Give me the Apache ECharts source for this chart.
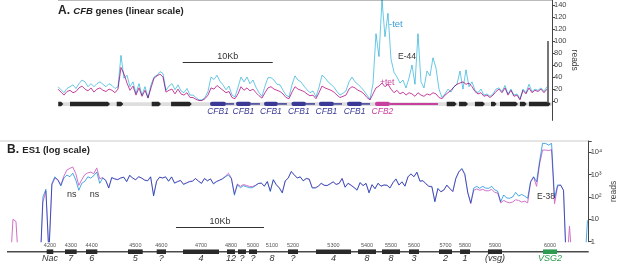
<!DOCTYPE html>
<html>
<head>
<meta charset="utf-8">
<script src="https://cdn.jsdelivr.net/npm/echarts@6.0.0/dist/echarts.min.js"></script>
<style>
html,body{margin:0;padding:0;background:#fff}
#main{width:617px;height:265px}
</style>
</head>
<body>
<div id="main"></div>
<script>
var FONT = 'Liberation Sans, Arial, sans-serif';
var CYAN_A = '#44bbe0', MAG_A = '#c8409e';
var CYAN_B = '#4aaae6', MAG_B = '#d070c8';
var NAVY = '#3a3a96';

// sample spacing in kb
var STEP_A = 1 / 3;
var STEP_B = 0.34;
var XMAX_A = 54.89;
var XMAX_B = 66.1;

// panel A reads (linear), one value per STEP_A
var minusTetA = [
  24,19,14,21,24,27,21,29,35,32,
  24,29,24,29,32,28,24,29,26,21,
  24,76,38,43,24,32,13,29,10,24,
  6,27,40,43,49,46,18,25,29,19,
  27,17,14,21,10,10,6,2,2,6,
  16,40,36,43,33,27,19,25,10,7,
  23,40,32,40,29,35,23,14,8,25,
  39,39,35,28,27,18,10,7,27,42,
  35,32,25,19,14,17,7,23,43,39,
  32,28,23,16,10,13,17,32,40,32,
  28,23,17,10,3,29,112,74,168,107,
  146,70,48,40,30,35,22,38,60,28,
  112,32,22,50,42,72,55,20,6,12,
  20,15,24,28,50,20,52,24,32,18,
  14,20,10,12,8,12,20,22,16,26,
  12,20,10,12,4,20,14,28,16,20,
  18,22,16,24
];
var plusTetA = [
  20,15,10,16,18,14,16,22,25,20,
  17,22,15,20,22,18,16,20,18,14,
  20,56,45,30,18,25,10,22,8,18,
  5,22,38,42,45,40,15,18,20,12,
  20,12,10,14,6,6,3,1,1,4,
  10,22,20,26,22,18,14,16,6,4,
  12,24,18,22,17,20,14,9,5,14,
  22,24,20,18,16,12,6,4,15,24,
  20,18,16,12,9,10,4,14,25,22,
  20,18,15,10,6,8,10,20,24,22,
  18,16,12,6,2,12,22,25,30,24,
  28,20,14,18,12,15,10,14,12,8,
  14,10,8,12,10,14,12,6,4,10,
  14,18,24,28,30,32,28,30,24,16,
  12,14,8,10,6,10,16,20,14,22,
  10,18,8,10,2,18,12,22,14,18,
  16,20,14,20
];

// panel B reads (log), one value per STEP_B ; 0.05 = below 1 read
var minusTetB = [
  0.05,0.05,0.05,0.05,0.05,0.05,0.05,0.05,0.05,0.05,
  0.05,0.05,100,220,0.3,400,800,560,310,700,
  960,810,1150,575,200,410,500,800,700,900,
  1300,410,700,550,250,750,640,600,700,780,
  480,960,700,580,810,700,560,520,810,110,
  500,780,700,810,500,800,410,480,560,360,
  420,480,500,685,500,400,685,520,650,380,
  480,560,640,800,960,650,120,350,260,320,
  290,260,260,320,400,420,300,500,175,600,
  350,250,150,530,700,1400,960,700,810,520,
  685,620,250,250,300,420,330,330,380,480,
  360,410,650,270,420,330,260,200,450,320,
  410,150,360,230,420,300,350,330,250,450,
  650,345,485,300,810,1100,800,1300,500,550,
  400,300,300,60,245,174,210,345,245,180,
  685,1360,1900,1100,160,55,250,300,245,300,
  250,245,300,210,180,62,123,90,88,100,
  160,110,130,110,88,500,810,485,4000,25000,
  25000,21000,25000,90,345,345,200,0.05,0.05,0.05,
  0.05,0.05,0.05,0.05,9
];
var plusTetB = [
  0.05,0.05,10,8,0.05,0.05,0.05,0.05,0.05,0.05,
  0.05,0.05,60,180,0.3,350,700,600,350,850,
  1600,1900,2200,1100,330,600,1000,1200,1300,1100,
  2000,650,750,550,260,720,650,600,720,760,
  500,900,700,600,800,700,580,540,780,120,
  520,760,720,780,520,780,430,500,540,380,
  430,500,520,660,520,420,660,540,640,400,
  500,560,660,850,1150,700,140,380,300,360,
  330,300,290,330,400,420,310,480,190,580,
  360,260,160,520,720,1350,1000,720,780,540,
  660,640,270,260,300,400,340,320,400,470,
  370,400,700,280,400,340,270,210,430,330,
  400,160,350,240,400,310,340,340,260,430,
  620,340,470,310,780,1050,820,1250,520,520,
  380,300,280,65,230,170,200,330,230,170,
  660,1300,1800,1000,150,50,200,230,200,220,
  190,190,220,160,150,55,70,60,55,60,
  75,70,60,65,55,450,780,300,3000,12600,
  12600,12000,13000,50,300,345,200,0.05,5,0.05,
  0.05,0.05,0.05,0.05,0.05
];

// axis ticks
var yTicksA = [0,20,40,60,80,100,120,140,160];
var yLabelsA = ['0','20','40','60','80','100','120','120','140'];
var yTicksB = [1,10,100,1000,10000];
var yLabelsB = ['1','10','10²','10³','10⁴'];

// panel A gene track (kb)
var geneA_start = [0.03,1.33,6.52,10.41,12.56,16.89,19.78,22.89,25.94,28.99,32.11,35.22,43.19,44.56,46.33,48.11,49.11,51.33,52.33];
var geneA_end   = [0.59,5.78,7.26,11.44,14.86,18.67,21.44,24.44,27.56,30.67,33.78,36.89,44.3,45.56,47.44,48.74,51.11,52.08,54.74];
var geneA_tail  = [null,null,null,null,null,19.56,22.44,25.44,28.56,31.56,34.67,42.22,null,null,null,null,null,null,null];
var geneA_kind  = [0,0,0,0,0,1,1,1,1,1,1,2,0,0,0,0,0,0,0];
var geneA_name  = ['','','','','','CFB1','CFB1','CFB1','CFB1','CFB1','CFB1','CFB2','','','','','','',''];

// panel B gene track (kb)
var geneB_start = [4.51,6.59,8.98,13.75,17.01,20.0,25.0,26.25,27.5,30.11,31.93,35.11,39.89,42.61,45.68,49.09,51.48,54.66,60.91];
var geneB_end   = [5.26,7.92,10.26,15.42,18.07,24.09,25.91,27.16,28.41,30.11,33.07,39.09,41.93,44.66,46.82,50.57,52.61,56.25,62.5];
var geneB_num   = ['4200','4300','4400','4500','4600','4700','4800','','5000','5100','5200','5300','5400','5500','5600','5700','5800','5900','6000'];
var geneB_name  = ['Nac','7','6','5','?','4','12','?','?','8','?','4','8','8','3','2','1','(vsg)','VSG2'];
var geneB_kind  = [0,0,0,0,0,0,0,0,0,0,0,0,0,0,0,0,0,0,1];

function toPairs(arr, step) {
  return arr.map(function (v, i) { return [i * step, v]; });
}
function spans(a, b) {
  return a.map(function (v, i) { return [v, b[i]]; });
}

function renderTrackA(params, api) {
  var i = params.dataIndex;
  var p0 = api.coord([api.value(0), 0]);
  var p1 = api.coord([api.value(1), 0]);
  var y = p0[1] + 2.8;
  var kind = geneA_kind[i];
  var kids = [];
  if (geneA_tail[i] != null) {
    var pt = api.coord([geneA_tail[i], 0]);
    kids.push({type: 'line', shape: {x1: p1[0], y1: y, x2: pt[0], y2: y},
      style: {stroke: kind === 2 ? MAG_A : NAVY, lineWidth: kind === 2 ? 2 : 1.5}});
  }
  if (kind === 0) {
    var tip = Math.min(2.2, (p1[0] - p0[0]) / 2);
    kids.push({type: 'polygon', shape: {points: [[p0[0], y - 2.3], [p1[0] - tip, y - 2.3], [p1[0], y], [p1[0] - tip, y + 2.3], [p0[0], y + 2.3]]},
      style: {fill: '#262626'}});
  } else {
    kids.push({type: 'rect', shape: {x: p0[0], y: y - 2.1, width: p1[0] - p0[0], height: 4.2, r: 2},
      style: {fill: kind === 2 ? MAG_A : NAVY}});
  }
  if (geneA_name[i]) {
    kids.push({type: 'text', x: (p0[0] + p1[0]) / 2, y: p0[1] + 10.8,
      style: {text: geneA_name[i], fill: kind === 2 ? MAG_A : NAVY, fontSize: 8.5, fontStyle: 'italic',
        fontFamily: FONT, align: 'center', verticalAlign: 'middle'}});
  }
  return {type: 'group', children: kids};
}

function renderBgA(params, api) {
  var p0 = api.coord([api.value(0), 0]);
  var p1 = api.coord([api.value(1), 0]);
  return {type: 'rect', shape: {x: p0[0], y: p0[1] + 1, width: p1[0] - p0[0], height: 3.8}, style: {fill: '#dedede'}};
}

function renderBaseB(params, api) {
  var p0 = api.coord([api.value(0), 1]);
  var p1 = api.coord([api.value(1), 1]);
  var y = p0[1] + 10;
  return {type: 'line', shape: {x1: p0[0], y1: y, x2: p1[0], y2: y}, style: {stroke: '#4a4a4a', lineWidth: 1.5}};
}

function renderTrackB(params, api) {
  var i = params.dataIndex;
  var p0 = api.coord([api.value(0), 1]);
  var p1 = api.coord([api.value(1), 1]);
  var y = p0[1] + 10;
  var cx = (p0[0] + p1[0]) / 2;
  var green = geneB_kind[i] === 1;
  var kids = [];
  if (p1[0] - p0[0] > 0.5) {
    kids.push({type: 'rect', shape: {x: p0[0], y: y - 2.3, width: p1[0] - p0[0], height: 4.6},
      style: {fill: green ? '#2e9c50' : '#2a2a2a'}});
  }
  if (geneB_num[i]) {
    kids.push({type: 'text', x: cx, y: y - 6, style: {text: geneB_num[i], fill: '#555', fontSize: 5.5,
      fontFamily: FONT, align: 'center', verticalAlign: 'middle'}});
  }
  kids.push({type: 'text', x: cx, y: y + 6.8, style: {text: geneB_name[i], fill: green ? '#2e9c50' : '#333',
    fontSize: 9, fontStyle: 'italic', fontFamily: FONT, align: 'center', verticalAlign: 'middle'}});
  return {type: 'group', children: kids};
}

function labelB(v) {
  var e = Math.round(Math.log10(v));
  var k = yTicksB.indexOf(Math.pow(10, e));
  if (k < 0 || Math.abs(Math.log10(v) - e) > 0.01) return '';
  return yLabelsB[k];
}

var chart = echarts.init(document.getElementById('main'), null, {renderer: 'canvas'});

var option = {
  animation: false,
  backgroundColor: '#fff',
  textStyle: {fontFamily: FONT},
  grid: [
    {left: 58, top: 0, width: 494, height: 120.4, outerBoundsMode: 'none', containLabel: false},
    {left: 7, top: 141, width: 581.7, height: 100.7, outerBoundsMode: 'none', containLabel: false}
  ],
  xAxis: [
    {gridIndex: 0, type: 'value', min: 0, max: XMAX_A, show: false},
    {gridIndex: 1, type: 'value', min: 0, max: XMAX_B, show: false}
  ],
  yAxis: [
    {
      gridIndex: 0, type: 'value', position: 'right', min: -32, max: 168,
      axisLine: {show: true, onZero: false, lineStyle: {color: '#444', width: 1}},
      axisTick: {show: true, customValues: yTicksA, length: 3, lineStyle: {color: '#444'}},
      axisLabel: {customValues: yTicksA, margin: 2, fontSize: 7.5, color: '#444', fontFamily: FONT,
        formatter: function (v) { return yLabelsA[yTicksA.indexOf(v)]; }},
      splitLine: {show: false},
      name: 'reads', nameLocation: 'middle', nameRotate: -90, nameGap: 18, nameMoveOverlap: false,
      nameTextStyle: {fontSize: 8.5, color: '#444', fontFamily: FONT}
    },
    {
      gridIndex: 1, type: 'log', logBase: 10, position: 'right', min: 1, max: 32000,
      axisLine: {show: true, onZero: false, lineStyle: {color: '#444', width: 1}},
      axisTick: {show: true, length: 3, lineStyle: {color: '#444'}},
      axisLabel: {margin: 2, fontSize: 7.5, color: '#444', fontFamily: FONT, formatter: labelB},
      splitLine: {show: false},
      name: 'reads', nameLocation: 'middle', nameRotate: 90, nameGap: 20, nameMoveOverlap: false,
      nameTextStyle: {fontSize: 8.5, color: '#444', fontFamily: FONT}
    }
  ],
  series: [
    {
      type: 'custom', xAxisIndex: 0, yAxisIndex: 0, renderItem: renderBgA, silent: true, z: 1,
      data: [[0, XMAX_A]]
    },
    {
      type: 'line', xAxisIndex: 0, yAxisIndex: 0, data: toPairs(plusTetA, STEP_A),
      symbol: 'none', silent: true, z: 2, clip: true,
      lineStyle: {color: MAG_A, width: 1}, itemStyle: {color: MAG_A},
      markLine: {
        silent: true, symbol: ['none', 'none'], animation: false,
        label: {show: false},
        lineStyle: {type: 'solid', color: '#333', width: 1.2},
        data: [
          [{coord: [54.37, -3], lineStyle: {color: '#555', width: 1.6}}, {coord: [54.37, 100]}],
          [{coord: [13.86, 65.3], label: {show: true, formatter: '10Kb', position: 'insideMiddleTop',
            distance: 1, fontSize: 9, color: '#333', fontFamily: FONT}}, {coord: [23.86, 65.3]}]
        ]
      }
    },
    {
      type: 'line', xAxisIndex: 0, yAxisIndex: 0, data: toPairs(minusTetA, STEP_A),
      symbol: 'none', silent: true, z: 3, clip: true,
      lineStyle: {color: CYAN_A, width: 1}, itemStyle: {color: CYAN_A}
    },
    {
      type: 'custom', xAxisIndex: 0, yAxisIndex: 0, renderItem: renderTrackA, silent: true, z: 4,
      data: spans(geneA_start, geneA_end)
    },
    {
      type: 'line', xAxisIndex: 1, yAxisIndex: 1, data: toPairs(plusTetB, STEP_B),
      symbol: 'none', silent: true, z: 2, clip: true,
      lineStyle: {color: MAG_B, width: 1}, itemStyle: {color: MAG_B},
      markLine: {
        silent: true, symbol: ['none', 'none'], animation: false,
        lineStyle: {type: 'solid', color: '#333', width: 1.2},
        data: [
          [{coord: [19.2, 4.4], label: {show: true, formatter: '10Kb', position: 'insideMiddleTop',
            distance: 1, fontSize: 9, color: '#333', fontFamily: FONT}}, {coord: [29.2, 4.4]}]
        ]
      }
    },
    {
      type: 'line', xAxisIndex: 1, yAxisIndex: 1, data: toPairs(minusTetB, STEP_B),
      symbol: 'none', silent: true, z: 3, clip: true,
      lineStyle: {color: CYAN_B, width: 1}, itemStyle: {color: CYAN_B}
    },
    {
      type: 'custom', xAxisIndex: 1, yAxisIndex: 1, renderItem: renderBaseB, silent: true, z: 3,
      data: [[0, XMAX_B]]
    },
    {
      type: 'custom', xAxisIndex: 1, yAxisIndex: 1, renderItem: renderTrackB, silent: true, z: 4,
      data: spans(geneB_start, geneB_end)
    }
  ],
  graphic: [
    {type: 'line', shape: {x1: 58, y1: 0.5, x2: 552, y2: 0.5}, style: {stroke: '#bbb', lineWidth: 1}, silent: true},
    {type: 'line', shape: {x1: 0, y1: 141, x2: 589, y2: 141}, style: {stroke: '#ccc', lineWidth: 1}, silent: true},
    {type: 'text', left: 58, top: 5, silent: true, style: {
      text: '{a|A.} {i|CFB}{b| genes (linear scale)}',
      rich: {
        a: {fontSize: 12, fontWeight: 'bold', fontFamily: FONT, fill: '#222'},
        i: {fontSize: 9.5, fontWeight: 'bold', fontStyle: 'italic', fontFamily: FONT, fill: '#222'},
        b: {fontSize: 9.5, fontWeight: 'bold', fontFamily: FONT, fill: '#222'}
      }}},
    {type: 'text', left: 7, top: 144, silent: true, style: {
      text: '{a|B.} {b|ES1 (log scale)}',
      rich: {
        a: {fontSize: 12, fontWeight: 'bold', fontFamily: FONT, fill: '#222'},
        b: {fontSize: 9.5, fontWeight: 'bold', fontFamily: FONT, fill: '#222'}
      }}},
    {type: 'text', x: 389, y: 24, silent: true, style: {text: '-tet', fill: '#3a9fd8', fontSize: 9.5, fontFamily: FONT, verticalAlign: 'middle'}},
    {type: 'text', x: 398, y: 57, silent: true, style: {text: 'E-44', fill: '#333', fontSize: 8.5, fontFamily: FONT, verticalAlign: 'middle'}},
    {type: 'text', x: 380, y: 82.5, silent: true, style: {text: '+tet', fill: MAG_A, fontSize: 8.5, fontFamily: FONT, verticalAlign: 'middle'}},
    {type: 'text', x: 71.7, y: 195, silent: true, style: {text: 'ns', fill: '#333', fontSize: 9, fontFamily: FONT, align: 'center', verticalAlign: 'middle'}},
    {type: 'text', x: 94.5, y: 195, silent: true, style: {text: 'ns', fill: '#333', fontSize: 9, fontFamily: FONT, align: 'center', verticalAlign: 'middle'}},
    {type: 'text', x: 537, y: 197, silent: true, style: {text: 'E-38', fill: '#333', fontSize: 8.5, fontFamily: FONT, verticalAlign: 'middle'}}
  ]
};

chart.setOption(option);

// overlapping stretches darken like the printed figure
try {
  chart.getZr().storage.getDisplayList(true).forEach(function (el) {
    if (el.style && el.style.stroke === CYAN_A) {
      el.style.blend = 'multiply';
      el.style.opacity = 0.8;
      el.markRedraw();
    } else if (el.style && el.style.stroke === CYAN_B) {
      el.style.blend = 'multiply';
      el.markRedraw();
    }
  });
  chart.getZr().refresh();
} catch (e) {}
</script>
</body>
</html>
